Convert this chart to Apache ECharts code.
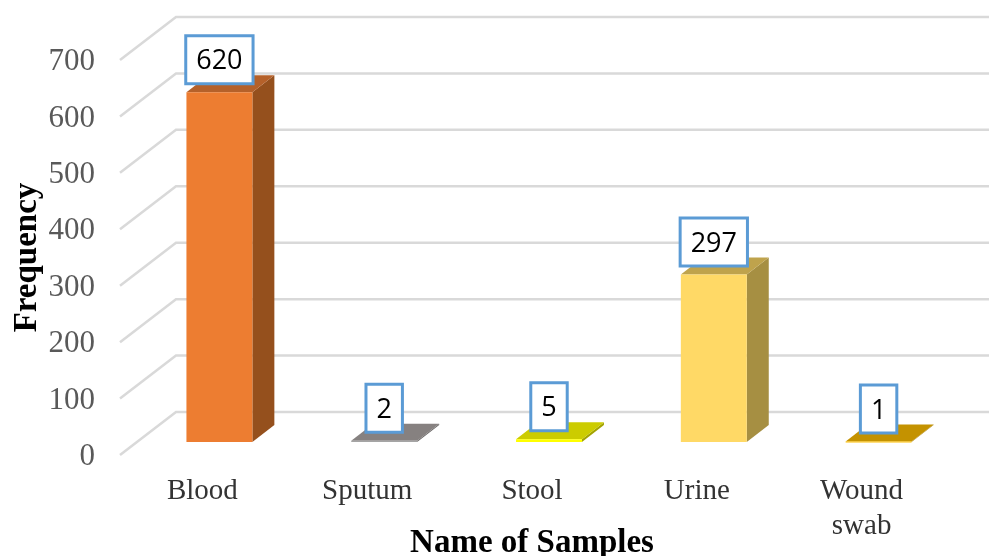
<!DOCTYPE html>
<html>
<head>
<meta charset="utf-8">
<style>
  html, body { margin: 0; padding: 0; background: #fff; }
  #main { width: 989px; height: 556px; }
</style>
<script src="https://cdn.jsdelivr.net/npm/echarts@6/dist/echarts.min.js"></script>
</head>
<body>
<div id="main"></div>
<script>
var categories = ['Blood', 'Sputum', 'Stool', 'Urine', 'Wound\nswab'];
var frequency = [620, 2, 5, 297, 1];
var yTicks = [0, 100, 200, 300, 400, 500, 600, 700];

// front, top, side colour of each bar
var barColors = [
  ['#ed7d31', '#b5612a', '#95501d'],
  ['#a5a5a5', '#868180', '#6b6867'],
  ['#ffff00', '#cccc00', '#a3a300'],
  ['#ffd966', '#bfa34c', '#a68f42'],
  ['#ffc000', '#c49200', '#9c7500']
];

var serif = '"Liberation Serif", "Times New Roman", serif';

function drawGridLine(params, api) {
  var y = api.coord([0, api.value(1)])[1];
  var left = params.coordSys.x;
  return {
    type: 'polyline',
    shape: { points: [[left, y], [left + 56, y - 43], [989, y - 43]] },
    style: { stroke: '#d9d9d9', lineWidth: 2.5, fill: 'none' }
  };
}

function drawBar(params, api) {
  var i = api.value(0);
  var value = api.value(1);
  var top = api.coord([i, value]);
  var base = api.coord([i, 0]);
  var half = api.size([1, 0])[0] * 0.2;
  var x0 = top[0] + 17 - half;
  var x1 = top[0] + 17 + half;
  var y0 = top[1] - 13;
  var y1 = base[1] - 13;
  var c = barColors[i];
  return {
    type: 'group',
    children: [
      { type: 'polygon', shape: { points: [[x1, y0], [x1 + 22, y0 - 17], [x1 + 22, y1 - 17], [x1, y1]] }, style: { fill: c[2] } },
      { type: 'polygon', shape: { points: [[x0, y0], [x0 + 22, y0 - 17], [x1 + 22, y0 - 17], [x1, y0]] }, style: { fill: c[1] } },
      { type: 'rect', shape: { x: x0, y: y0, width: x1 - x0, height: Math.max(y1 - y0, 1) }, style: { fill: c[0] } },
      {
        type: 'text',
        x: top[0] + 17,
        y: y0 - 10,
        style: {
          text: String(value),
          font: '27px "Open Sans", sans-serif',
          fill: '#000',
          align: 'center',
          verticalAlign: 'bottom',
          backgroundColor: '#fff',
          borderColor: '#5b9bd5',
          borderWidth: 3,
          padding: [11, 9, 7, 9]
        }
      }
    ]
  };
}

var myChart = echarts.init(document.getElementById('main'));
var option = {
  animation: false,
  backgroundColor: '#fff',
  grid: { left: 120, right: 45, top: 60, bottom: 101, outerBoundsMode: 'none' },
  xAxis: {
    type: 'category',
    data: categories,
    axisLine: { show: false },
    axisTick: { show: false },
    axisLabel: { color: '#333', fontFamily: serif, fontSize: 29, lineHeight: 35, margin: 19, interval: 0 },
    name: 'Name of Samples',
    nameLocation: 'middle',
    nameGap: 88,
    nameMoveOverlap: false,
    nameTextStyle: { color: '#000', fontFamily: serif, fontSize: 33, fontWeight: 'bold', verticalAlign: 'middle' }
  },
  yAxis: {
    type: 'value',
    min: 0,
    max: 700,
    interval: 100,
    axisLine: { show: false },
    axisTick: { show: false },
    splitLine: { show: false },
    axisLabel: { color: '#595959', fontFamily: serif, fontSize: 31, margin: 25, verticalAlign: 'top', lineHeight: 4 },
    name: 'Frequency',
    nameLocation: 'middle',
    nameGap: 93,
    nameMoveOverlap: false,
    nameTextStyle: { color: '#000', fontFamily: serif, fontSize: 33, fontWeight: 'bold', verticalAlign: 'middle' }
  },
  series: [
    {
      type: 'custom',
      renderItem: drawGridLine,
      clip: false,
      z: 1,
      encode: { x: 0, y: 1 },
      data: yTicks.map(function (v) { return [0, v]; })
    },
    {
      type: 'custom',
      renderItem: drawBar,
      clip: false,
      z: 2,
      encode: { x: 0, y: 1 },
      data: frequency.map(function (v, i) { return [i, v]; })
    }
  ]
};
myChart.setOption(option);
</script>
</body>
</html>
